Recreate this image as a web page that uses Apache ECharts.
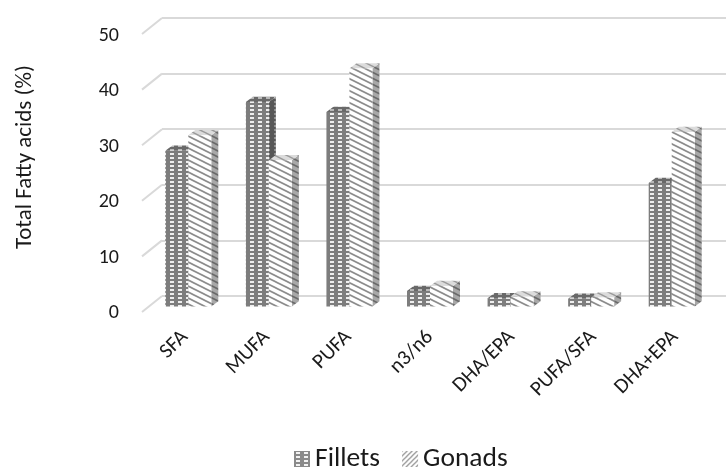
<!DOCTYPE html>
<html>
<head>
<meta charset="utf-8">
<script src="https://cdn.jsdelivr.net/npm/echarts@6/dist/echarts.min.js"></script>
<style>
  html, body { margin: 0; padding: 0; background: #fff; }
  #chart { width: 726px; height: 468px; }
</style>
</head>
<body>
<div id="chart"></div>
<script>
// Fatty acid composition (% of total fatty acids)
var categories = ['SFA', 'MUFA', 'PUFA', 'n3/n6', 'DHA/EPA', 'PUFA/SFA', 'DHA+EPA'];
var filletsValues = [28.0, 36.8, 35.0, 2.8, 1.5, 1.4, 22.2];
var gonadsValues = [30.8, 26.3, 42.8, 3.7, 1.8, 1.6, 31.4];
var yTicks = [0, 10, 20, 30, 40, 50];

var FONT = 'Carlito, Lato, "Liberation Sans", sans-serif';

// Small canvas tiles used as repeating fills for the columns
function tile(w, h, draw) {
  var c = document.createElement('canvas');
  c.width = w; c.height = h;
  draw(c.getContext('2d'), w, h);
  return { image: c, repeat: 'repeat' };
}
function gridTile(bg, dash) {
  return tile(8, 4, function (ctx) {
    ctx.fillStyle = bg; ctx.fillRect(0, 0, 8, 4);
    ctx.fillStyle = dash; ctx.fillRect(2, 1, 4, 2);
  });
}
function stripeTile(bg, ink, width) {
  return tile(12, 6, function (ctx) {
    ctx.fillStyle = bg; ctx.fillRect(0, 0, 12, 6);
    ctx.strokeStyle = ink; ctx.lineWidth = width;
    for (var c = -12; c <= 12; c += 6) {
      ctx.beginPath(); ctx.moveTo(-2, c - 1); ctx.lineTo(14, c + 7); ctx.stroke();
    }
  });
}
function legendStripeTile() {
  return tile(5, 5, function (ctx) {
    ctx.fillStyle = '#ffffff'; ctx.fillRect(0, 0, 5, 5);
    ctx.strokeStyle = '#9a9a9a'; ctx.lineWidth = 1.3;
    for (var k = -5; k <= 5; k += 5) {
      ctx.beginPath(); ctx.moveTo(k - 1, 6); ctx.lineTo(k + 6, -1); ctx.stroke();
    }
  });
}

var fills = {
  fillets: {
    front: gridTile('#7d7d7d', '#eeeeee'),
    top: gridTile('#696969', '#b8b8b8'),
    side: gridTile('#575757', '#8f8f8f'),
    legend: gridTile('#8a8a8a', '#f2f2f2')
  },
  gonads: {
    front: stripeTile('#ffffff', '#8c8c8c', 1.7),
    top: stripeTile('#dcdcdc', '#9a9a9a', 1.5),
    side: stripeTile('#a8a8a8', '#6a6a6a', 1.6)
  }
};

// Column geometry for the pseudo-3D look
var FACE_W = 23;      // width of a column's front face
var SHIFT_X = -14;    // front face offset from the back wall
var SHIFT_Y = 10.5;
var DEPTH_X = 7;      // visible depth of side/top faces
var DEPTH_Y = -5.25;

function columnRenderer(which) {
  var f = fills[which];
  return function (params, api) {
    var cat = api.value(0);
    var base = api.coord([cat, 0]);
    var top = api.coord([cat, api.value(1)]);
    var x0 = (which === 'fillets' ? base[0] - FACE_W : base[0]) + SHIFT_X;
    var yb = base[1] + SHIFT_Y;
    var yt = top[1] + SHIFT_Y;
    var x1 = x0 + FACE_W;
    return {
      type: 'group',
      children: [
        {
          type: 'polygon',
          shape: { points: [[x1, yt], [x1 + DEPTH_X, yt + DEPTH_Y], [x1 + DEPTH_X, yb + DEPTH_Y], [x1, yb]] },
          style: { fill: f.side, stroke: null }
        },
        {
          type: 'polygon',
          shape: { points: [[x0, yt], [x1, yt], [x1 + DEPTH_X, yt + DEPTH_Y], [x0 + DEPTH_X, yt + DEPTH_Y]] },
          style: { fill: f.top, stroke: null }
        },
        {
          type: 'rect',
          shape: { x: x0, y: yt, width: FACE_W, height: yb - yt },
          style: { fill: f.front, stroke: null }
        }
      ]
    };
  };
}

// Slanted connectors between the front value scale and the back wall gridlines
function wallEdgeRenderer(params, api) {
  var p = api.coord([0, api.value(1)]);
  var left = params.coordSys.x;
  return {
    type: 'line',
    shape: { x1: left - 20, y1: p[1] + 16, x2: left, y2: p[1] },
    style: { stroke: '#d9d9d9', lineWidth: 2 }
  };
}

var chart = echarts.init(document.getElementById('chart'), null, { renderer: 'canvas' });

chart.setOption({
  animation: false,
  backgroundColor: '#ffffff',
  textStyle: { fontFamily: FONT },
  grid: [
    { left: 162, right: -8, top: 18, bottom: 172 },   // back wall
    { left: 142, right: 12, top: 36, bottom: 155 },   // front value scale
    { left: 144, right: 10, top: 34, bottom: 156 }    // category labels
  ],
  xAxis: [
    { gridIndex: 0, type: 'category', data: categories, show: false },
    { gridIndex: 1, type: 'category', data: categories, show: false },
    {
      gridIndex: 2, type: 'category', data: categories,
      axisLine: { show: false }, axisTick: { show: false },
      axisLabel: { rotate: 45, margin: 22, fontSize: 21, color: '#1a1a1a', fontFamily: FONT, interval: 0 }
    }
  ],
  yAxis: [
    {
      gridIndex: 0, type: 'value', min: 0, max: 50, interval: 10,
      axisLine: { show: false }, axisTick: { show: false }, axisLabel: { show: false },
      splitLine: { lineStyle: { color: '#d9d9d9', width: 2 } },
      name: 'Total Fatty acids (%)', nameLocation: 'middle', nameGap: 125,
      nameTextStyle: { fontSize: 23, color: '#1a1a1a', fontFamily: FONT }
    },
    {
      gridIndex: 1, type: 'value', min: 0, max: 50, interval: 10,
      axisLine: { show: false }, axisTick: { show: false }, splitLine: { show: false },
      axisLabel: { margin: 23, fontSize: 20, color: '#1a1a1a', fontFamily: FONT }
    },
    { gridIndex: 2, type: 'value', min: 0, max: 50, interval: 10, show: false }
  ],
  legend: {
    data: ['Fillets', 'Gonads'],
    left: 289, top: 440,
    itemWidth: 16, itemHeight: 16, itemGap: 22,
    icon: 'rect',
    textStyle: { fontSize: 27.5, color: '#1a1a1a', fontFamily: FONT },
    selectedMode: false
  },
  series: [
    {
      type: 'custom', name: 'wall', silent: true,
      xAxisIndex: 0, yAxisIndex: 0,
      renderItem: wallEdgeRenderer,
      data: yTicks.map(function (t) { return [0, t]; }),
      z: 1
    },
    {
      type: 'custom', name: 'Fillets',
      xAxisIndex: 0, yAxisIndex: 0,
      itemStyle: { color: fills.fillets.legend },
      renderItem: columnRenderer('fillets'),
      encode: { x: 0, y: 1 },
      data: filletsValues.map(function (v, i) { return [i, v]; }),
      z: 3
    },
    {
      type: 'custom', name: 'Gonads',
      xAxisIndex: 0, yAxisIndex: 0,
      itemStyle: { color: legendStripeTile() },
      renderItem: columnRenderer('gonads'),
      encode: { x: 0, y: 1 },
      data: gonadsValues.map(function (v, i) { return [i, v]; }),
      z: 4
    }
  ]
});
</script>
</body>
</html>
